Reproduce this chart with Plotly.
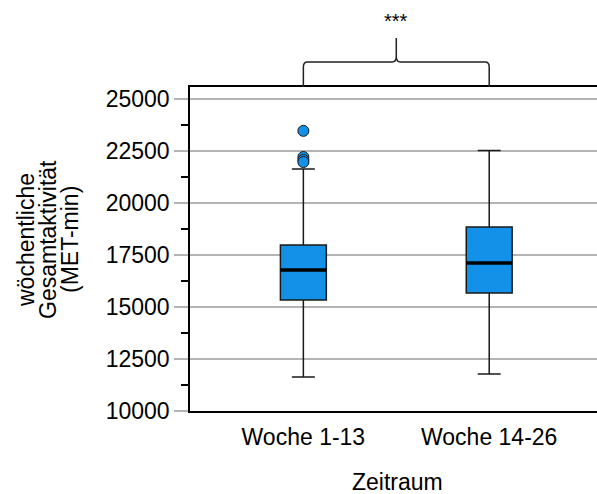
import plotly.graph_objects as go

categories = ["Woche 1-13", "Woche 14-26"]
q1 = [15340, 15670]
median = [16780, 17120]
q3 = [17980, 18850]
lowerfence = [11640, 11780]
upperfence = [21640, 22520]
outlier_x = ["Woche 1-13", "Woche 1-13", "Woche 1-13", "Woche 1-13"]
outlier_y = [23470, 22210, 22070, 21970]
y_tickvals = [10000, 12500, 15000, 17500, 20000, 22500, 25000]
y_title_lines = ["wöchentliche", "Gesamtaktivität", "(MET-min)"]
x_title = "Zeitraum"
signif_label = "***"

FONT = "Liberation Sans"
FS = 23
BLUE = "#1390e8"
EDGE = "#1a1a1a"
XR = [-0.61, 1.58]
BOXW = 0.247
L, R, T, B = 190, 0, 87, 83
W, H = 597, 494
PW, PH = W - L - R, H - T - B

fig = go.Figure()
fig.add_trace(go.Box(
    x=categories, q1=q1, median=median, q3=q3,
    lowerfence=lowerfence, upperfence=upperfence,
    fillcolor=BLUE, line=dict(color=EDGE, width=1.5),
    width=BOXW, whiskerwidth=0.5, boxpoints=False, showlegend=False,
    hoverinfo="skip",
))
fig.add_trace(go.Scatter(
    x=outlier_x, y=outlier_y, mode="markers",
    marker=dict(size=11, color=BLUE, line=dict(color=EDGE, width=1)),
    showlegend=False, hoverinfo="skip",
))

shapes = []
for i, m in enumerate(median):
    shapes.append(dict(type="line", xref="x", yref="y",
                       x0=i - BOXW / 2, x1=i + BOXW / 2, y0=m, y1=m,
                       line=dict(color="black", width=3.5)))

def px(v):
    return (v - XR[0]) / (XR[1] - XR[0])

a, b = px(0), px(len(categories) - 1)
mid = (a + b) / 2
rx = 0.01
yb, yh, yt = 1.0, 1.077, 1.151
ry = 0.016
path = (f"M {a},{yb} L {a},{yh-ry} Q {a},{yh} {a+rx},{yh} L {mid-rx},{yh} "
        f"Q {mid},{yh} {mid},{yh+ry} L {mid},{yt} "
        f"M {mid},{yh+ry} Q {mid},{yh} {mid+rx},{yh} L {b-rx},{yh} "
        f"Q {b},{yh} {b},{yh-ry} L {b},{yb}")
shapes.append(dict(type="path", xref="paper", yref="paper", path=path,
                   line=dict(color="#222222", width=1.5)))

annotations = [dict(text=signif_label, xref="paper", yref="paper",
                    x=mid, y=(T + PH - 21) / PH, showarrow=False,
                    xanchor="center", yanchor="middle",
                    font=dict(family=FONT, size=20, color="black"))]
for k, (line, xpix) in enumerate(zip(y_title_lines, [26, 48, 70])):
    annotations.append(dict(text=line, xref="paper", yref="paper",
                            x=(xpix - L) / PW, y=(T + PH - 240) / PH,
                            xanchor="center", yanchor="middle",
                            textangle=-90, showarrow=False,
                            font=dict(family=FONT, size=FS, color="black")))
annotations.append(dict(text=x_title, xref="paper", yref="paper",
                        x=(397 - L) / PW, y=(T + PH - 482) / PH,
                        xanchor="center", yanchor="middle", showarrow=False,
                        font=dict(family=FONT, size=FS, color="black")))

fig.update_layout(
    width=W, height=H,
    margin=dict(l=L, r=R, t=T, b=B, pad=0),
    paper_bgcolor="white", plot_bgcolor="white",
    font=dict(family=FONT, size=FS, color="black"),
    shapes=shapes, annotations=annotations,
)
fig.update_xaxes(
    type="category", range=XR, showgrid=False, automargin=False,
    showline=True, linecolor="black", linewidth=1.5, mirror=True,
    ticks="", ticklabelstandoff=5,
    tickfont=dict(family=FONT, size=FS, color="black"),
)
fig.update_yaxes(
    range=[10000, 25577], tickvals=y_tickvals, tickformat="d", automargin=False,
    showgrid=True, gridcolor="#b4b4b4", gridwidth=1.5,
    showline=True, linecolor="black", linewidth=1.5, mirror=False,
    ticks="outside", ticklen=14, tickcolor="#b4b4b4", tickwidth=1.5,
    minor=dict(dtick=1250, tick0=10000, ticks="outside", ticklen=7,
               tickcolor="black", tickwidth=1.5, showgrid=False),
    zeroline=False,
    tickfont=dict(family=FONT, size=FS, color="black"),
)

fig.write_html("out.html", config={"displayModeBar": False},
               post_script="document.body.style.margin='0';document.body.style.overflow='hidden';")
